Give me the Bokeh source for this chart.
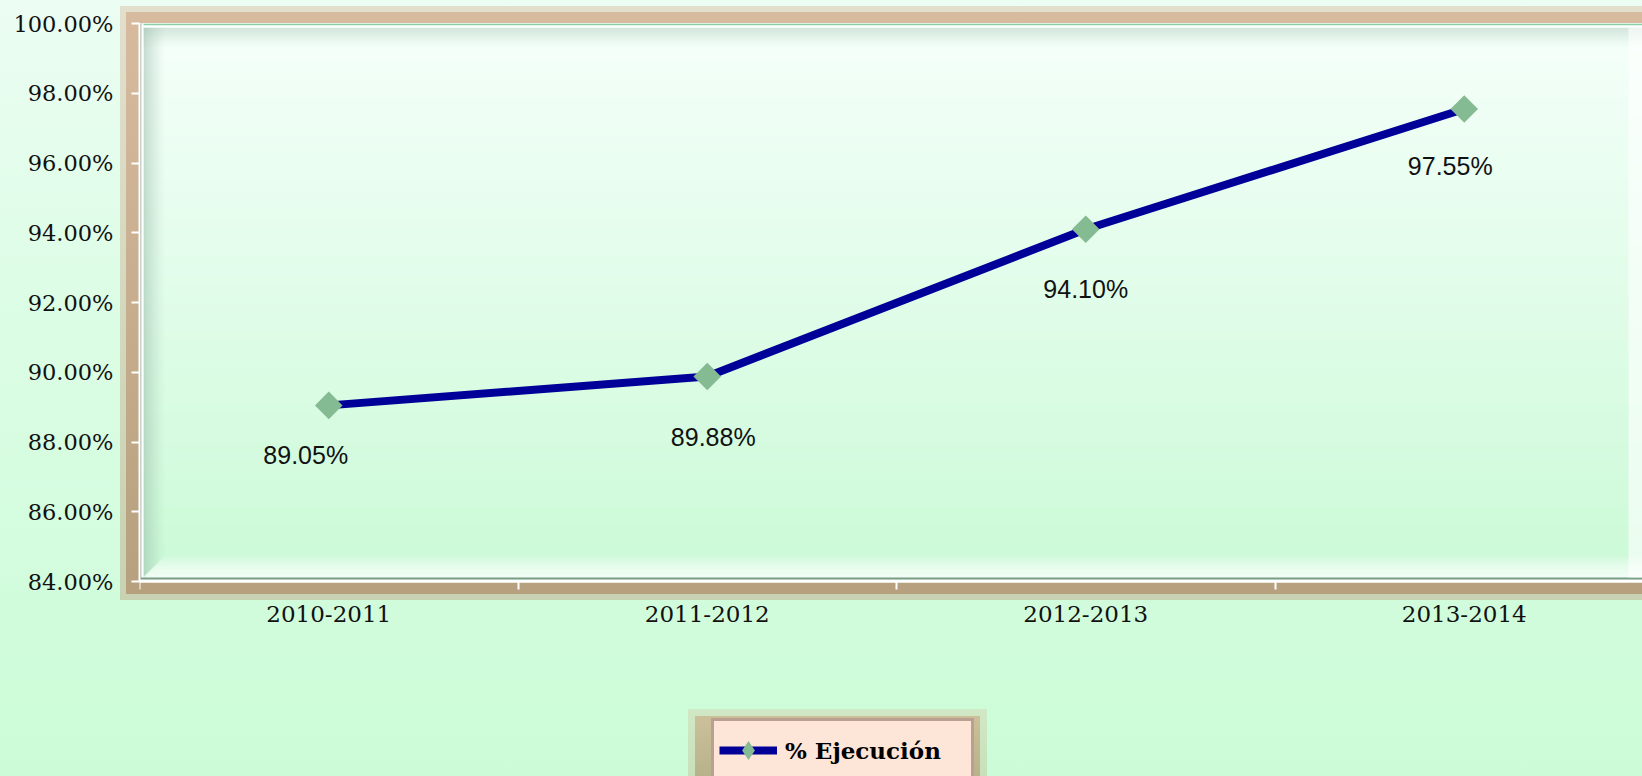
import numpy as np
from bokeh.plotting import figure
from bokeh.models import (ColumnDataSource, FixedTicker, PrintfTickFormatter, Legend,
                          LegendItem, BoxAnnotation, Range1d)
from bokeh.core.properties import value
from bokeh.embed import file_html
from bokeh.resources import INLINE

# ---------------- data ----------------
categories = ["2010-2011", "2011-2012", "2012-2013", "2013-2014"]
ejecucion = [89.05, 89.88, 94.10, 97.55]
value_labels = ["89.05%", "89.88%", "94.10%", "97.55%"]
y_ticks = [84, 86, 88, 90, 92, 94, 96, 98, 100]
series_name = "% Ejecución"

# label placement (screen px, styling only)
label_dx = [-23, 6, 0, -14]
label_dy = [36, 47, 46, 43]

# ---------------- layout ----------------
W, H = 1642, 776
FL, FT = 139, 23
frame_w = W - FL
frame_h = H - FT
cat_px = 378.5
px_per_unit = 34.875
x0 = -0.5
x1 = x0 + frame_w / cat_px
y0, y1 = 84, 100
y_low = y1 - frame_h / px_per_unit
px_y = 1.0 / px_per_unit
px_x = 1.0 / cat_px

p = figure(width=W, height=H, x_range=Range1d(x0, x1), y_range=Range1d(y_low, y1),
           output_backend="svg", toolbar_location=None,
           min_border_left=FL, min_border_right=0, min_border_top=FT, min_border_bottom=0)

p.border_fill_alpha = 0
p.background_fill_alpha = 0
p.outline_line_color = None

# page gradient + brown glow around frame + glow around legend (CSS background layers)
bg_layers = [
    f"linear-gradient(#d8bb9f, #b6a07e) 126px 12px / {W-126}px 582px no-repeat",
    f"linear-gradient(rgba(214,186,158,0.45), rgba(185,160,125,0.45)) 120px 6px / {W-120}px 594px no-repeat",
    "linear-gradient(rgba(200,160,120,0.55), rgba(170,140,100,0.55)) 695px 716px / 285px 62px no-repeat",
    "linear-gradient(rgba(215,185,150,0.3), rgba(190,160,120,0.3)) 688px 709px / 299px 68px no-repeat",
    "linear-gradient(180deg, #ecfdf3 0%, #dcfde5 40%, #cbfcd7 100%)",
]
p.styles = {"background": ", ".join(bg_layers)}

# interior vertical gradient (cumulative bands: no seams)
def hexmix(c1, c2, t):
    a = [int(c1[i:i+2], 16) for i in (1, 3, 5)]
    b = [int(c2[i:i+2], 16) for i in (1, 3, 5)]
    return "#%02x%02x%02x" % tuple(round(a[k] + (b[k] - a[k]) * t) for k in range(3))

N = 60
for i in reversed(range(N)):
    t = i / (N - 1)
    yb = y1 - (i + 1) * (y1 - y0) / N
    p.add_layout(BoxAnnotation(bottom=yb, top=y1, fill_color=hexmix("#f5fffa", "#cbfad7", t),
                               fill_alpha=1, line_color=None, level="underlay"))

# bevels
for k in range(22):
    a = 0.42 * (1 - k / 22) ** 1.5
    p.add_layout(BoxAnnotation(top=y1 - (4 + k) * px_y, bottom=y1 - (5 + k) * px_y,
                               fill_color="#9dbcab", fill_alpha=a, line_color=None, level="underlay"))
    p.add_layout(BoxAnnotation(left=x0 + (4 + k) * px_x, right=x0 + (5 + k) * px_x,
                               bottom=y0 + (4 + k) * px_y, top=y1 - 4 * px_y,
                               fill_color="#8fb09e", fill_alpha=a * 1.2, line_color=None, level="underlay"))
for k in range(22):
    a = 0.95 * (1 - k / 22) ** 0.8
    p.add_layout(BoxAnnotation(bottom=y0 + (4 + k) * px_y, top=y0 + (5 + k) * px_y,
                               left=x0 + (4 + k) * px_x,
                               fill_color="#ffffff", fill_alpha=a, line_color=None, level="underlay"))
# thin edge lines
p.add_layout(BoxAnnotation(top=y1, bottom=y1 - 2 * px_y, fill_color="#8ccfa6", fill_alpha=1, line_color=None, level="underlay"))
p.add_layout(BoxAnnotation(top=y1 - 2 * px_y, bottom=y1 - 4 * px_y, fill_color="#ffffff", fill_alpha=1, line_color=None, level="underlay"))
p.add_layout(BoxAnnotation(left=x0, right=x0 + 2 * px_x, bottom=y0, top=y1, fill_color="#8aa898", fill_alpha=1, line_color=None, level="underlay"))
p.add_layout(BoxAnnotation(left=x0 + 2 * px_x, right=x0 + 4 * px_x, bottom=y0, top=y1, fill_color="#ffffff", fill_alpha=1, line_color=None, level="underlay"))
p.add_layout(BoxAnnotation(bottom=y0, top=y0 + 2 * px_y, fill_color="#ffffff", fill_alpha=1, line_color=None, level="underlay"))
p.add_layout(BoxAnnotation(bottom=y0 + 2 * px_y, top=y0 + 4 * px_y, fill_color="#7f9c8c", fill_alpha=1, line_color=None, level="underlay"))
p.add_layout(BoxAnnotation(left=x1 - 14 * px_x, right=x1, bottom=y0 + 4 * px_y, top=y1 - 4 * px_y,
                           fill_color="#ffffff", fill_alpha=0.6, line_color=None, level="underlay"))

# ---------------- axes ----------------
p.yaxis.ticker = FixedTicker(ticks=y_ticks)
p.yaxis.formatter = PrintfTickFormatter(format="%.2f%%")
p.yaxis.bounds = (y0, y1)
p.xaxis.ticker = FixedTicker(ticks=list(range(len(categories))),
                             minor_ticks=[i - 0.5 for i in range(len(categories) + 1)])
p.xaxis.major_label_overrides = {i: c for i, c in enumerate(categories)}
p.xaxis.fixed_location = y0

for ax in (p.xaxis[0], p.yaxis[0]):
    ax.axis_line_color = "white"
    ax.axis_line_width = 2
    ax.major_label_text_font = "DejaVu Serif"
    ax.major_label_text_color = "#111111"
p.xaxis.major_label_text_font_size = "23px"
p.yaxis.major_label_text_font_size = "22.5px"

p.yaxis.major_tick_line_color = "white"
p.yaxis.major_tick_line_width = 2
p.yaxis.major_tick_out = 8
p.yaxis.major_tick_in = 0
p.yaxis.minor_tick_line_color = None
p.yaxis.major_label_standoff = 18

p.xaxis.major_tick_line_color = None
p.xaxis.major_tick_out = 0
p.xaxis.major_tick_in = 0
p.xaxis.minor_tick_line_color = "white"
p.xaxis.minor_tick_line_width = 2
p.xaxis.minor_tick_out = 8
p.xaxis.minor_tick_in = 0
p.xaxis.major_label_standoff = 16

p.ygrid.ticker = FixedTicker(ticks=y_ticks)
p.ygrid.grid_line_color = "white"
p.ygrid.grid_line_width = 2
p.xgrid.visible = False

# ---------------- series ----------------
src = ColumnDataSource(dict(x=list(range(len(categories))), y=ejecucion, label=value_labels,
                            dx=label_dx, dy=label_dy))
line_r = p.line("x", "y", source=src, line_color="#000099", line_width=8)
pts_r = p.scatter("x", "y", source=src, marker="square", size=19.5, angle=np.pi / 4,
                  fill_color="#85bb93", line_color=None)
p.text(x="x", y="y", text="label", x_offset="dx", y_offset="dy", source=src,
       text_align="center", text_baseline="top", text_font=value("Liberation Sans"),
       text_font_size="25px", text_color="#111111")

# legend key marker (diamond shape; hidden in the plot, drawn only in the legend)
key_r = p.scatter("x", "y", source=src, marker="diamond", size=19.5,
                  fill_color="#85bb93", line_color=None, visible=False)

legend = Legend(items=[LegendItem(label=series_name, renderers=[line_r, key_r])],
                location=(711 - FL, -6), orientation="horizontal",
                background_fill_color="#fde5d8", background_fill_alpha=1,
                border_line_color="#7a5a48", border_line_width=3,
                label_text_font="DejaVu Serif", label_text_font_style="bold",
                label_text_font_size="23px", label_text_color="#000000",
                glyph_width=58, glyph_height=48, padding=5, margin=0, label_standoff=8,
                label_width=181)
p.add_layout(legend, "center")

open("out.html", "w").write(file_html(p, INLINE))
